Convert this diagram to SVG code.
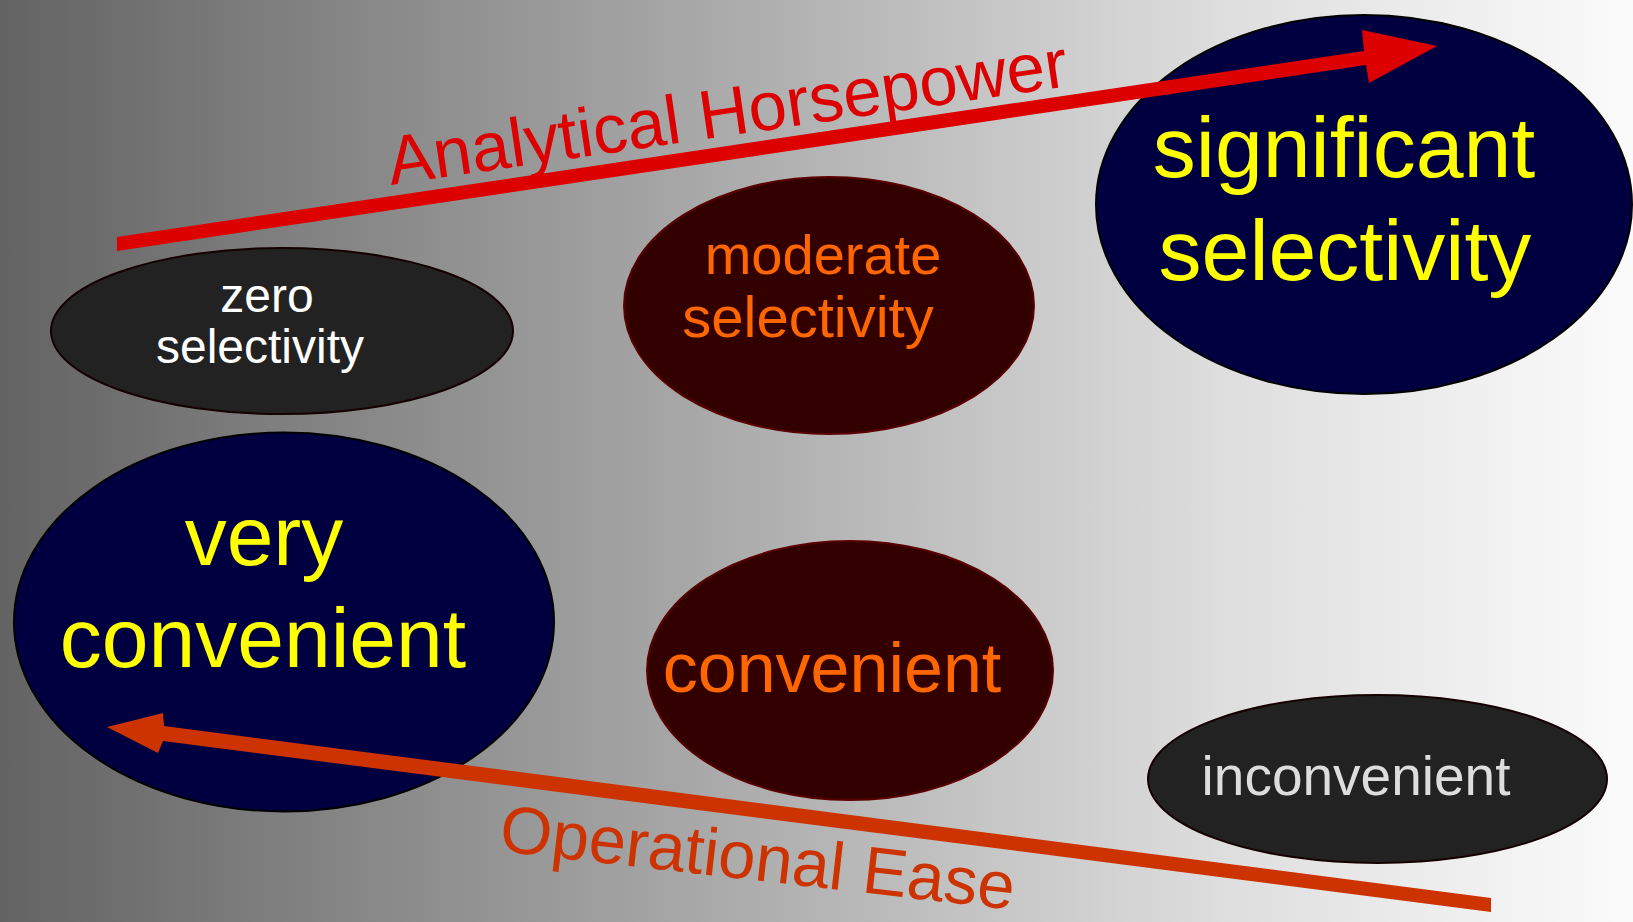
<svg xmlns="http://www.w3.org/2000/svg" width="1633" height="922" viewBox="0 0 1633 922">
<defs>
<linearGradient id="bg" x1="0" y1="0" x2="1633" y2="0" gradientUnits="userSpaceOnUse">
<stop offset="0" stop-color="#636363"/>
<stop offset="0.25" stop-color="#8c8c8c"/>
<stop offset="0.5" stop-color="#b4b4b4"/>
<stop offset="0.75" stop-color="#dedede"/>
<stop offset="1" stop-color="#fbfbfb"/>
</linearGradient>
</defs>
<style>
text{font-family:"Liberation Sans",Arial,sans-serif;text-anchor:middle}
.gray{fill:#222222;stroke:#140000;stroke-width:2}
.red{fill:#330000;stroke:#5a0000;stroke-width:2}
.blue{fill:#000040;stroke:#000000;stroke-width:2}
.y{fill:#ffff00}
.o{fill:#ff6600}
</style>
<rect x="0" y="0" width="1633" height="922" fill="url(#bg)"/>
<g id="zero-selectivity">
<ellipse class="gray" cx="282" cy="331" rx="231" ry="83"/>
<text x="267" y="312" font-size="48" fill="#ffffff">zero</text>
<text x="260" y="363" font-size="48" fill="#ffffff">selectivity</text>
</g>
<g id="moderate-selectivity">
<ellipse class="red" cx="829" cy="305.5" rx="205" ry="128.5"/>
<text class="o" x="823" y="274" font-size="56">moderate</text>
<text class="o" x="808" y="337" font-size="58">selectivity</text>
</g>
<g id="significant-selectivity">
<ellipse class="blue" cx="1364" cy="204.5" rx="268" ry="189.5"/>
<text class="y" x="1344" y="177" font-size="86">significant</text>
<text class="y" x="1345" y="280" font-size="86">selectivity</text>
</g>
<g id="very-convenient">
<ellipse class="blue" cx="284" cy="622" rx="270" ry="189.5"/>
<text class="y" x="264" y="565" font-size="84">very</text>
<text class="y" x="263" y="667" font-size="84">convenient</text>
</g>
<g id="convenient">
<ellipse class="red" cx="850" cy="670.5" rx="203" ry="129.5"/>
<text class="o" x="832" y="692" font-size="70">convenient</text>
</g>
<g id="inconvenient">
<ellipse class="gray" cx="1377.5" cy="779" rx="229.5" ry="84"/>
<text x="1356" y="795" font-size="55" fill="#dddddd">inconvenient</text>
</g>
<g id="connectors">
<g id="analytical-horsepower">
<path d="M117,237 L1364,51 L1362,30 L1437,46 L1369,83 L1366,65 L117,251 Z" fill="#dd0000"/>
<text transform="translate(391,185) rotate(-8.3)" x="0" y="0" font-size="69" fill="#dd0000" style="text-anchor:start">Analytical Horsepower</text>
</g>
<g id="operational-ease">
<path d="M107,727 L163,713 L164,726 L1491,898 L1491,912 L163,741 L158,753 Z" fill="#cc3300"/>
<text transform="translate(498,851) rotate(6.5)" x="0" y="0" font-size="67" fill="#cc3300" style="text-anchor:start">Operational Ease</text>
</g>
</g>
</svg>
